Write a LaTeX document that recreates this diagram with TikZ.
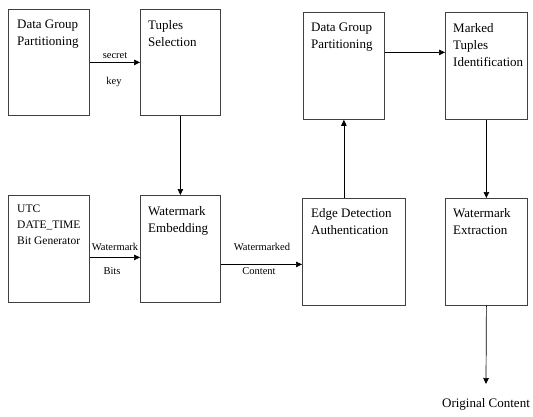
\documentclass[tikz,border=0pt]{standalone}
\usepackage{fontspec}
\setmainfont{Liberation Serif}
\usetikzlibrary{arrows.meta}
\begin{document}
\begin{tikzpicture}[x=1pt,y=-1pt,
  box/.style={draw=black!75,line width=0.8pt,rectangle,anchor=north west,inner sep=0pt},
  txt/.style={anchor=north west,align=left,inner sep=0pt,font=\fontsize{13}{17}\selectfont},
  smalltxt/.style={anchor=north west,align=left,inner sep=0pt,font=\fontsize{11.5}{16}\selectfont},
  lab/.style={inner sep=0pt,font=\fontsize{10.5}{12}\selectfont},
  arr/.style={line width=0.7pt,-{Triangle[length=6pt,width=5.5pt]}}]
\useasboundingbox[fill=white] (0,0) rectangle (533,416);
% boxes
\node[box,minimum width=81pt,minimum height=106pt] (b1) at (8,9) {};
\node[box,minimum width=80pt,minimum height=106pt] (b2) at (140,9) {};
\node[box,minimum width=81pt,minimum height=107pt] (b3) at (8,195) {};
\node[box,minimum width=80pt,minimum height=107pt] (b4) at (140,195) {};
\node[box,minimum width=103pt,minimum height=107pt] (b5) at (302,198) {};
\node[box,minimum width=81pt,minimum height=107pt] (b6) at (303,12) {};
\node[box,minimum width=82pt,minimum height=107pt] (b7) at (445,12) {};
\node[box,minimum width=82pt,minimum height=107pt] (b8) at (445,198) {};
% texts
\node[txt] (t1) at (17,20) {Data Group\\Partitioning};
\node[txt] (t2) at (148,20) {Tuples\\Selection};
\node[smalltxt] (t3) at (17,205) {UTC\\DATE\_TIME\\Bit Generator};
\node[txt] (t4) at (148,206) {Watermark\\Embedding};
\node[txt] (t5) at (311,208) {Edge Detection\\Authentication};
\node[txt] (t6) at (311,23) {Data Group\\Partitioning};
\node[txt] (t7) at (453,23) {Marked\\Tuples\\Identification};
\node[txt] (t8) at (453,208) {Watermark\\Extraction};
% connector anchor points
\coordinate (p3) at ([yshift=-8.5pt]b3.east);
\coordinate (p4) at ([yshift=-15.5pt]b4.east);
\coordinate (p6) at ([yshift=13.5pt]b6.east);
% connectors
\draw[arr] (b1.east) -- (b2.west);
\node[lab] (l1) at (115,56) {secret};
\node[lab] (l2) at (114,82) {key};
\draw[arr] (b2.south) -- (b4.north);
\draw[arr] (p3) -- (b4.west |- p3);
\node[lab] (l3) at (115,247) {Watermark};
\node[lab] (l4) at (112,271) {Bits};
\draw[arr] (p4) -- (b5.west |- p4);
\node[lab] (l5) at (262,247) {Watermarked};
\node[lab] (l6) at (259,271) {Content};
\draw[arr] (b5.north -| b6.south) -- (b6.south);
\draw[arr] (p6) -- (b7.west |- p6);
\draw[arr] (b7.south) -- (b8.north);
\coordinate (end) at (486,384);
\draw[arr] (b8.south) -- (end);
\node[inner sep=0pt,font=\fontsize{13}{15}\selectfont] (oc) at (486,404) {Original Content};
\end{tikzpicture}
\end{document}
